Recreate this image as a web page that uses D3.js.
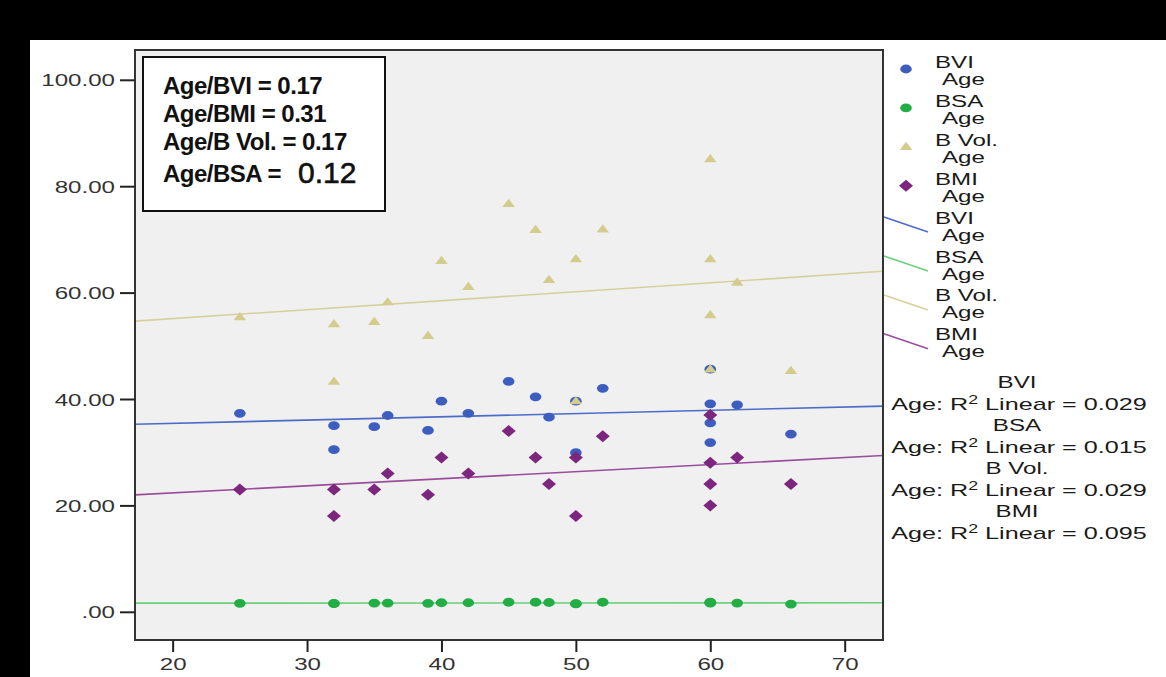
<!DOCTYPE html>
<html>
<head>
<meta charset="utf-8">
<script src="https://cdn.jsdelivr.net/npm/d3@7"></script>
<style>
  html, body { margin: 0; padding: 0; background: #fff; }
  svg { display: block; }
</style>
</head>
<body>
<script>
// ---------------- data ----------------
const ages = [25, 32, 32, 35, 36, 39, 40, 42, 45, 47, 48, 50, 50, 52, 60, 60, 60, 60, 62, 66];
const bviValues  = [37.3, 35.0, 30.5, 34.8, 36.9, 34.1, 39.6, 37.3, 43.3, 40.4, 36.6, 39.6, 29.9, 42.0, 45.6, 39.1, 35.5, 31.8, 38.9, 33.4];
const bsaValues  = [1.6, 1.6, 1.55, 1.65, 1.65, 1.6, 1.7, 1.7, 1.8, 1.8, 1.75, 1.55, 1.5, 1.8, 1.75, 1.7, 1.8, 1.65, 1.65, 1.45];
const bvolValues = [55.4, 54.1, 43.3, 54.5, 58.2, 51.9, 66.0, 61.1, 76.7, 71.8, 62.4, 66.3, 39.6, 71.9, 85.1, 66.3, 55.8, 45.6, 61.9, 45.3];
const bmiValues  = [23, 23, 18, 23, 26, 22, 29, 26, 34, 29, 24, 29, 18, 33, 37, 28, 24, 20, 29, 24];

const seriesNames = ["BVI", "BSA", "B Vol.", "BMI"];
const xTicks = [20, 30, 40, 50, 60, 70];
const yTicks = [0, 20, 40, 60, 80, 100];
const yTickLabels = [".00", "20.00", "40.00", "60.00", "80.00", "100.00"];
const r2Labels = ["0.029", "0.015", "0.029", "0.095"];
const boxLines = ["Age/BVI = 0.17", "Age/BMI = 0.31", "Age/B Vol. = 0.17"];
const boxLastLabel = "Age/BSA =";
const boxLastValue = "0.12";

// ---------------- setup ----------------
const W = 1166, H = 677;
const SX = 1.42; // horizontal stretch of the source image text
const FONT = "'Liberation Sans', Arial, sans-serif";
const colors = { BVI: "#3d5ebf", BSA: "#22ad45", "B Vol.": "#d4cc8c", BMI: "#7c267e" };
const lineColors = { BVI: "#4d6cc8", BSA: "#6ccf7d", "B Vol.": "#d8d09c", BMI: "#9b4d9d" };

const svg = d3.select("body").append("svg").attr("width", W).attr("height", H);

// black frame remnants of the source
svg.append("rect").attr("x", 0).attr("y", 0).attr("width", W).attr("height", 40).attr("fill", "#000");
svg.append("rect").attr("x", 0).attr("y", 0).attr("width", 30).attr("height", H).attr("fill", "#000");

const plot = { left: 135, right: 883, top: 50, bottom: 640 };
const x = d3.scaleLinear().domain([17.2, 72.85]).range([plot.left, plot.right]);
const y = d3.scaleLinear().domain([-5.3, 105.6]).range([plot.bottom, plot.top]);

function sText(parent, tx, ty, str, opts = {}) {
  const t = parent.append("text")
    .attr("transform", `translate(${tx},${ty}) scale(${opts.sx || SX},1)`)
    .attr("font-family", FONT)
    .attr("font-size", opts.size || 17)
    .attr("fill", opts.fill || "#1a1a1a")
    .attr("text-anchor", opts.anchor || "start");
  if (str !== null) t.text(str);
  return t;
}

// plot background
svg.append("rect")
  .attr("x", plot.left).attr("y", plot.top)
  .attr("width", plot.right - plot.left).attr("height", plot.bottom - plot.top)
  .attr("fill", "#f0f0f0");

// regression lines (least squares from data)
function fit(xs, ys) {
  const mx = d3.mean(xs), my = d3.mean(ys);
  let sxy = 0, sxx = 0;
  xs.forEach((v, i) => { sxy += (v - mx) * (ys[i] - my); sxx += (v - mx) * (v - mx); });
  const b = sxy / sxx;
  return v => my + b * (v - mx);
}
const seriesData = { BVI: bviValues, BSA: bsaValues, "B Vol.": bvolValues, BMI: bmiValues };
const gLines = svg.append("g");
seriesNames.forEach(name => {
  const f = fit(ages, seriesData[name]);
  const [x0, x1] = x.domain();
  gLines.append("line")
    .attr("x1", x(x0)).attr("y1", y(f(x0)))
    .attr("x2", x(x1)).attr("y2", y(f(x1)))
    .attr("stroke", lineColors[name]).attr("stroke-width", 1.6);
});

// markers
const shapes = {
  BVI: g => g.append("ellipse").attr("rx", 5.8).attr("ry", 4.4),
  BSA: g => g.append("ellipse").attr("rx", 5.8).attr("ry", 4.4),
  "B Vol.": g => g.append("path").attr("d", "M0,-5 L6.3,3.2 L-6.3,3.2 Z"),
  BMI: g => g.append("path").attr("d", "M0,-6 L7,0 L0,6 L-7,0 Z")
};
seriesNames.forEach(name => {
  const g = svg.append("g");
  seriesData[name].forEach((v, i) => {
    const m = g.append("g").attr("transform", `translate(${x(ages[i])},${y(v)})`);
    shapes[name](m).attr("fill", colors[name]);
  });
});

// frame
svg.append("rect")
  .attr("x", plot.left).attr("y", plot.top)
  .attr("width", plot.right - plot.left).attr("height", plot.bottom - plot.top)
  .attr("fill", "none").attr("stroke", "#333").attr("stroke-width", 2);

// axes
const yAxis = d3.axisLeft(y).tickValues(yTicks).tickFormat((d, i) => yTickLabels[i]).tickSize(15).tickPadding(5);
const gy = svg.append("g").attr("transform", `translate(${plot.left},0)`).call(yAxis);
gy.select(".domain").remove();
gy.selectAll(".tick line").attr("stroke", "#222").attr("stroke-width", 2);
gy.selectAll(".tick text")
  .attr("x", null).attr("dy", "0.36em")
  .attr("transform", `translate(-20,0) scale(${SX},1)`)
  .attr("font-family", FONT).attr("font-size", 17).attr("fill", "#333");

const xAxis = d3.axisBottom(x).tickValues(xTicks).tickFormat(d3.format("d")).tickSize(12).tickPadding(4);
const gx = svg.append("g").attr("transform", `translate(0,${plot.bottom})`).call(xAxis);
gx.select(".domain").remove();
gx.selectAll(".tick line").attr("stroke", "#222").attr("stroke-width", 2);
gx.selectAll(".tick text")
  .attr("y", null).attr("dy", null)
  .attr("transform", `translate(0,30) scale(${SX},1)`)
  .attr("font-family", FONT).attr("font-size", 17).attr("fill", "#333");

// correlation box
const box = svg.append("g");
box.append("rect").attr("x", 143).attr("y", 57).attr("width", 242).attr("height", 154)
  .attr("fill", "#fff").attr("stroke", "#111").attr("stroke-width", 2);
boxLines.forEach((s, i) => {
  box.append("text").attr("x", 163).attr("y", 94 + i * 28)
    .attr("font-family", FONT).attr("font-size", 24).attr("font-weight", "bold")
    .attr("letter-spacing", -0.5).attr("fill", "#111").text(s);
});
box.append("text").attr("x", 163).attr("y", 182)
  .attr("font-family", FONT).attr("font-size", 24).attr("font-weight", "bold")
  .attr("letter-spacing", -0.5).attr("fill", "#111").text(boxLastLabel);
box.append("text").attr("x", 298).attr("y", 183)
  .attr("font-family", FONT).attr("font-size", 30)
  .attr("stroke", "#111").attr("stroke-width", 0.6)
  .attr("fill", "#111").text(boxLastValue);

// right legend: markers
const leg = svg.append("g");
const step = 38.9;
seriesNames.forEach((name, i) => {
  const cy = 69 + i * step;
  const m = leg.append("g").attr("transform", `translate(906,${cy})`);
  shapes[name](m).attr("fill", colors[name]);
  sText(leg, 935, cy - 1, name);
  sText(leg, 942, cy + 16, "Age");
});
seriesNames.forEach((name, j) => {
  const i = j + 4;
  const cy = 69 + i * step;
  leg.append("line").attr("x1", 884).attr("y1", cy - 7.5).attr("x2", 928).attr("y2", cy + 7.5)
    .attr("stroke", lineColors[name]).attr("stroke-width", 1.6);
  sText(leg, 935, cy - 1, name);
  sText(leg, 942, cy + 16, "Age");
});

// R2 labels
seriesNames.forEach((name, i) => {
  const base = 388 + i * 43;
  sText(leg, 1017, base, name, { anchor: "middle" });
  const t = sText(leg, 1019, base + 22, null, { anchor: "middle", sx: 1.48 });
  t.append("tspan").text("Age: R");
  t.append("tspan").attr("baseline-shift", "super").attr("font-size", 12).text("2");
  t.append("tspan").text(" Linear = " + r2Labels[i]);
});
</script>
</body>
</html>
